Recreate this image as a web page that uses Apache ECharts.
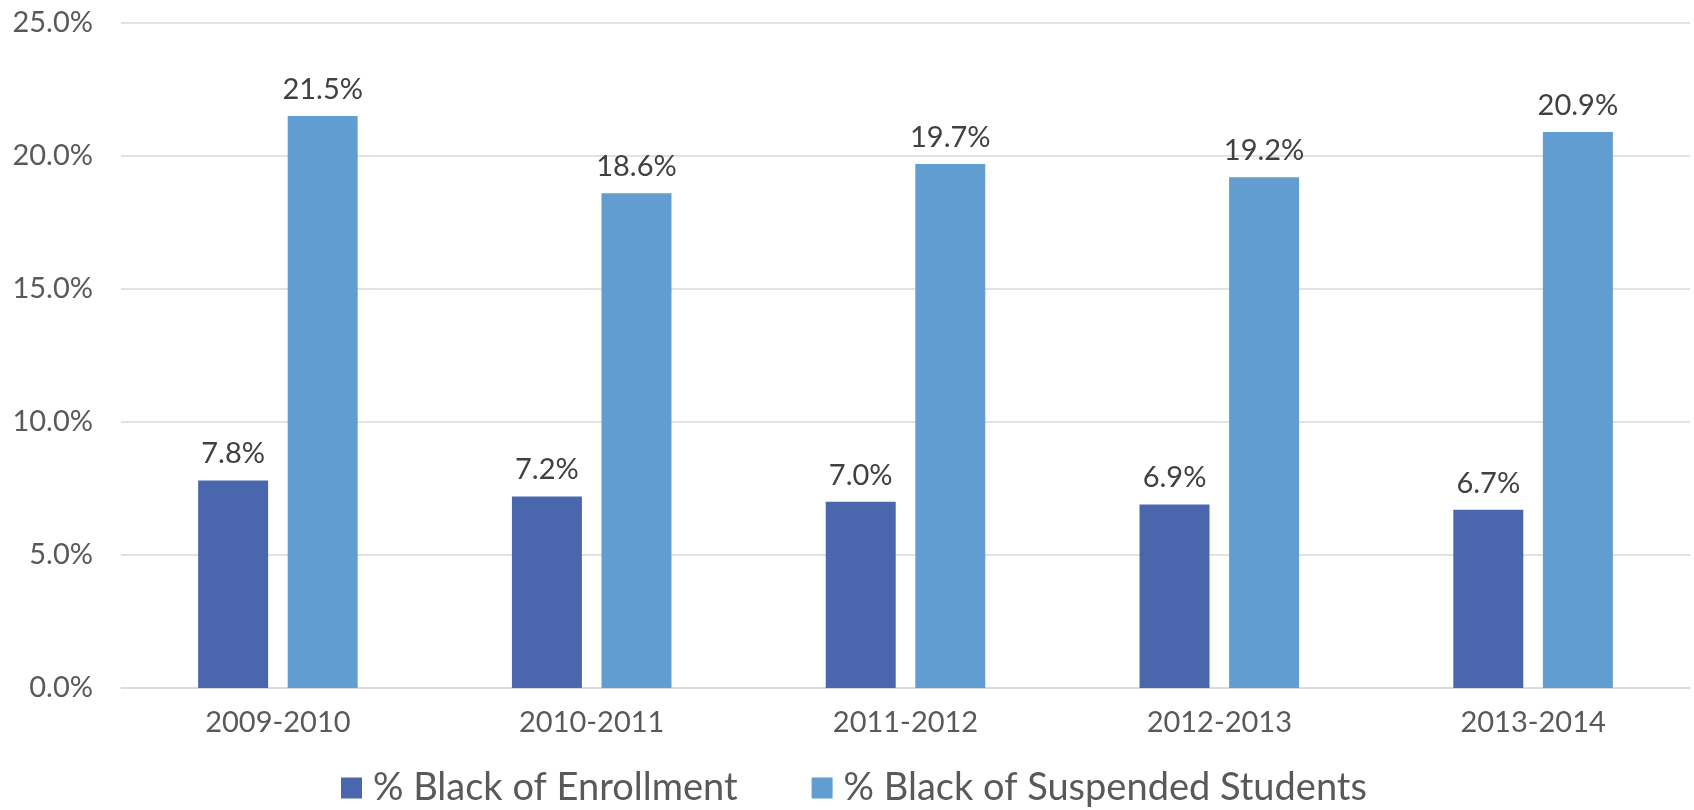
<!DOCTYPE html>
<html>
<head>
<meta charset="utf-8">
<style>
  html, body { margin: 0; padding: 0; background: #ffffff; }
  #chart { width: 1694px; height: 810px; }
</style>
<script src="https://cdn.jsdelivr.net/npm/echarts@6/dist/echarts.min.js"></script>
</head>
<body>
<div id="chart"></div>
<script>
// School years on the category axis
const years = ['2009-2010', '2010-2011', '2011-2012', '2012-2013', '2013-2014'];
// Share of Black students in total enrollment (%)
const enrollment = [7.8, 7.2, 7.0, 6.9, 6.7];
// Share of Black students among suspended students (%)
const suspended = [21.5, 18.6, 19.7, 19.2, 20.9];
const seriesNames = ['% Black of Enrollment', '% Black of Suspended Students'];

const FONT = 'Lato, "Noto Sans", sans-serif';
const pct = v => v.toFixed(1) + '%';

const chart = echarts.init(document.getElementById('chart'), null, { renderer: 'canvas' });

const barLabel = {
  show: true,
  position: 'top',
  distance: 12,
  color: '#404040',
  fontFamily: FONT,
  fontSize: 29,
  formatter: p => pct(p.value)
};

chart.setOption({
  animation: false,
  backgroundColor: '#ffffff',
  grid: { left: 121, right: 4, top: 23, bottom: 122, containLabel: false },
  legend: {
    left: 336,
    top: 764,
    itemWidth: 21,
    itemHeight: 21,
    itemGap: 74,
    icon: 'rect',
    textStyle: { color: '#595959', fontFamily: FONT, fontSize: 38, padding: [0, 0, 0, 6] },
    data: seriesNames
  },
  xAxis: {
    type: 'category',
    data: years,
    axisTick: { show: false },
    axisLine: { lineStyle: { color: '#d9d9d9', width: 1.5 } },
    axisLabel: { color: '#595959', fontFamily: FONT, fontSize: 29, margin: 20 }
  },
  yAxis: {
    type: 'value',
    min: 0,
    max: 25,
    interval: 5,
    axisLine: { show: false },
    axisTick: { show: false },
    splitLine: { lineStyle: { color: '#d9d9d9', width: 1.5 } },
    axisLabel: { color: '#595959', fontFamily: FONT, fontSize: 29, margin: 28, formatter: v => pct(v) }
  },
  series: [
    {
      name: seriesNames[0],
      type: 'bar',
      data: enrollment,
      barWidth: '22.3%',
      barGap: '28%',
      itemStyle: { color: '#4a66ac' },
      label: barLabel
    },
    {
      name: seriesNames[1],
      type: 'bar',
      data: suspended,
      barWidth: '22.3%',
      barGap: '28%',
      itemStyle: { color: '#629dd1' },
      label: barLabel
    }
  ]
});
</script>
</body>
</html>
